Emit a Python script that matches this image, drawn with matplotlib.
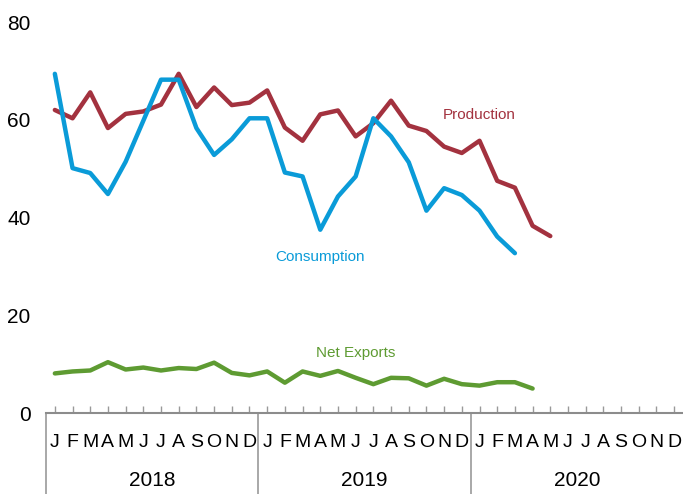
import matplotlib
matplotlib.use("Agg")
import matplotlib.pyplot as plt
import numpy as np

plt.rcParams['font.family'] = ['Liberation Sans', 'DejaVu Sans']

months = ["J", "F", "M", "A", "M", "J", "J", "A", "S", "O", "N", "D"]
years = ["2018", "2019", "2020"]

production = [62.0, 60.3, 65.6, 58.3, 61.2, 61.7, 63.1, 69.4, 62.6, 66.6, 63.0, 63.5,
              66.0, 58.4, 55.7, 61.1, 61.9, 56.6, 59.3, 63.9, 58.8, 57.7, 54.5, 53.2,
              55.7, 47.5, 46.1, 38.3, 36.2]
consumption = [69.4, 50.1, 49.1, 44.8, 51.4, 59.8, 68.2, 68.2, 58.3, 52.8, 56.0, 60.3,
               60.3, 49.2, 48.4, 37.5, 44.3, 48.4, 60.3, 56.6, 51.3, 41.4, 46.0, 44.6,
               41.4, 36.1, 32.7]
net_exports = [8.1, 8.5, 8.7, 10.4, 8.9, 9.3, 8.7, 9.2, 9.0, 10.3, 8.2, 7.7,
               8.5, 6.2, 8.5, 7.6, 8.6, 7.2, 5.9, 7.2, 7.1, 5.6, 7.0, 5.9,
               5.6, 6.3, 6.3, 5.0]

c_prod = "#A3323F"
c_cons = "#0A9BD8"
c_net = "#5E9B32"

fig = plt.figure(figsize=(6.83, 4.94), dpi=100)
W, H = 683, 494
ax = fig.add_axes([46 / W, (H - 413) / H, (683 - 46) / W, (413 - 22) / H])

ax.plot(np.arange(len(production)), production, color=c_prod, lw=3.2, solid_capstyle='round')
ax.plot(np.arange(len(consumption)), consumption, color=c_cons, lw=3.2, solid_capstyle='round')
ax.plot(np.arange(len(net_exports)), net_exports, color=c_net, lw=3.2, solid_capstyle='round')

ax.text(24.0, 61.0, "Production", color=c_prod, fontsize=11, ha='center', va='center')
ax.text(15.0, 32.0, "Consumption", color=c_cons, fontsize=11, ha='center', va='center')
ax.text(17.0, 12.2, "Net Exports", color=c_net, fontsize=11, ha='center', va='center')

ax.set_xlim(-0.5, 35.5)
ax.set_ylim(0, 80)
ax.set_yticks([0, 20, 40, 60, 80])
ax.tick_params(axis='y', length=0, pad=11, labelsize=15)

ax.set_xticks(np.arange(36))
ax.set_xticklabels(months * 3)
ax.tick_params(axis='x', direction='in', length=5, width=1, color='#999999',
               labelsize=14, pad=15)

for s in ['top', 'right', 'left']:
    ax.spines[s].set_visible(False)
ax.spines['bottom'].set_color('#8c8c8c')
ax.spines['bottom'].set_linewidth(1.5)

trans = ax.get_xaxis_transform()
span = 413 - 22
bottom_ax = -(494 - 413) / span
for i in range(3):
    x = -0.5 + 12 * i
    ax.plot([x, x], [0, bottom_ax], transform=trans, color='#999999', lw=1.2, clip_on=False)
    ax.text(5.5 + 12 * i, -(480 - 413) / span, years[i], transform=trans,
            ha='center', va='center', fontsize=15)

fig.savefig("out.png", dpi=100)
